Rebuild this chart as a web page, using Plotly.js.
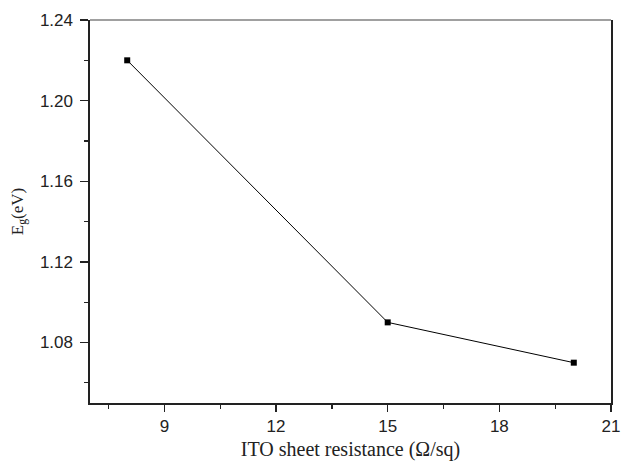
<!DOCTYPE html>
<html><head><meta charset="utf-8">
<script src="https://cdn.plot.ly/plotly-3.0.1.min.js"></script>
<style>body{margin:0;background:#fff}#c{width:622px;height:461px}</style>
</head><body><div id="c"></div>
<script>
const resistance = [8, 15, 20];
const bandgap = [1.22, 1.09, 1.07];
const xTicks = [9, 12, 15, 18, 21];
const yTicks = [1.08, 1.12, 1.16, 1.20, 1.24];

const trace = {
  x: resistance, y: bandgap, type: 'scatter', mode: 'lines+markers',
  line: {color: '#000', width: 1},
  marker: {symbol: 'square', size: 6, color: '#000'}
};
const tickFont = {family: 'Liberation Sans, Arial, sans-serif', size: 17, color: '#222'};
const layout = {
  width: 622, height: 461,
  margin: {l: 90, r: 11, t: 20, b: 58},
  paper_bgcolor: '#fff', plot_bgcolor: '#fff',
  showlegend: false,
  xaxis: {
    range: [7, 21], tickvals: xTicks, ticktext: xTicks.map(String),
    ticks: 'outside', ticklen: 7, tickwidth: 1.3, tickcolor: '#222',
    minor: {dtick: 1.5, tick0: 7.5, ticks: 'outside', ticklen: 4, tickwidth: 1.3, tickcolor: '#222', showgrid: false},
    showgrid: false, zeroline: false, showline: true, linecolor: '#222', linewidth: 1.6, mirror: false,
    tickfont: tickFont,
    title: {text: 'ITO sheet resistance (Ω/sq)', font: {family: 'Liberation Serif, Times New Roman, serif', size: 20, color: '#222'}, standoff: 8}
  },
  yaxis: {
    range: [1.05, 1.24], tickvals: yTicks, ticktext: yTicks.map(v => v.toFixed(2)),
    ticks: 'outside', ticklen: 8, tickwidth: 1.3, tickcolor: '#222', ticklabelstandoff: 4,
    minor: {dtick: 0.04, tick0: 1.06, ticks: 'outside', ticklen: 4, tickwidth: 1.3, tickcolor: '#222', showgrid: false},
    showgrid: false, zeroline: false, showline: true, linecolor: '#222', linewidth: 1.6, mirror: true,
    tickfont: tickFont,
    title: {text: 'E<sub>g</sub>(eV)', font: {family: 'Liberation Serif, Times New Roman, serif', size: 17, color: '#222'}, standoff: 12}
  },
  shapes: [{type: 'line', xref: 'paper', yref: 'paper', x0: 0, x1: 1, y0: 1, y1: 1, line: {color: '#808080', width: 1.6}}]
};
Plotly.newPlot('c', [trace], layout, {displayModeBar: false, staticPlot: true});
</script></body></html>
